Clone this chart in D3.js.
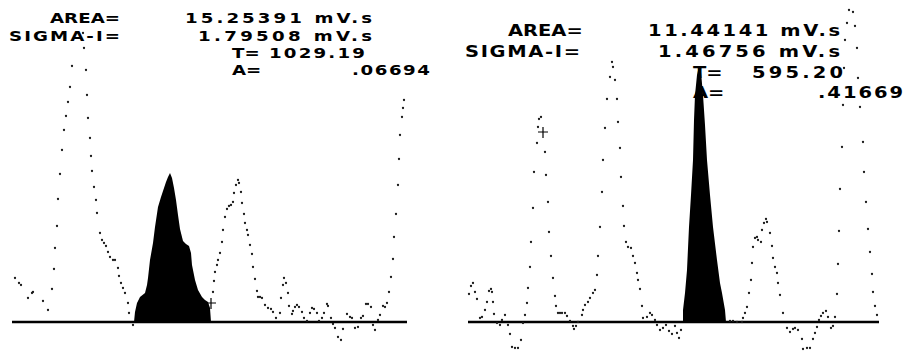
<!DOCTYPE html>
<html>
<head>
<meta charset="utf-8">
<script src="https://cdn.jsdelivr.net/npm/d3@7"></script>
<style>
  html, body { margin: 0; padding: 0; background: #fff; }
  svg { display: block; }
  text { font-family: "DejaVu Sans", "Liberation Sans", sans-serif; font-weight: bold; fill: #000; }
</style>
</head>
<body>
<svg id="chart" width="905" height="354"></svg>
<script>
// ---- detector trace, left run: [time (s), signal (mV)] ----
const leftTrace = [
  [874,4.4],[878,3.9],[880,3.7],[887,2.4],[891,2.9],[892,3.0],[902,2.1],[907,1.2],
  [911,3.3],[913,5.3],[914,7.4],[916,9.6],[917,12.3],[919,14.8],[921,17.2],[923,19.2],
  [925,20.6],[927,22.0],[929,23.5],[931,25.6],[934,30.2],[936,31.6],[938,32.0],[940,31.0],
  [942,28.9],[943,27.4],[945,25.2],[946,22.7],[947,20.4],[949,18.4],[950,16.6],[951,15.1],
  [953,13.5],[955,12.2],[956,10.9],[959,8.9],[961,8.2],[963,7.9],[965,7.6],[967,7.0],
  [969,6.5],[972,6.2],[974,6.2],[977,5.4],[978,4.6],[980,3.9],[982,3.4],[984,2.9],
  [987,1.9],[988,0.9],[992,-0.3],
  [1072,3.0],[1073,4.1],[1074,5.0],[1076,5.7],[1077,6.2],[1079,6.9],[1081,8.0],[1082,9.2],
  [1084,10.5],[1086,11.3],[1088,11.6],[1090,11.7],[1092,12.0],[1093,12.9],[1095,13.7],
  [1097,14.2],[1098,13.9],[1100,13.0],[1101,11.9],[1103,10.8],[1104,9.9],[1106,9.2],
  [1107,8.7],[1109,7.7],[1111,6.8],[1112,5.5],[1114,4.3],[1116,3.1],[1117,2.5],[1119,2.5],
  [1121,2.4],[1124,1.7],[1127,1.4],[1130,1.3],[1132,1.0],[1135,0.4],[1139,0.9],[1140,2.4],
  [1142,3.7],[1143,4.4],[1145,3.9],[1147,2.9],[1148,1.6],[1151,0.8],[1152,1.1],[1154,1.5],
  [1156,1.7],[1158,1.5],[1161,1.0],[1163,0.4],[1166,0.1],[1169,0.9],[1171,1.4],[1173,1.3],
  [1176,0.9],[1178,0.1],[1181,0.4],[1183,0.9],[1186,1.8],[1187,1.6],[1190,0.4],[1192,-0.2],
  [1194,-0.6],[1197,-1.5],[1200,-1.8],[1202,-0.7],[1206,0.8],[1209,0.5],[1211,0.4],
  [1214,-0.6],[1217,-0.5],[1220,0.4],[1222,0.6],[1225,1.8],[1227,1.8],[1230,1.5],
  [1232,-0.3],[1234,-0.8],[1237,0.2],[1239,0.7],[1242,1.6],[1244,1.5],[1246,1.9],
  [1248,3.0],[1250,4.5],[1252,6.3],[1253,8.5],[1255,10.8],[1257,13.7],[1258,16.3],
  [1259,18.7],[1261,20.5],[1262,21.4],[1263,22.2]
];
// integrated peak, left run (T = 1029.19)
const leftPeak = [
  [993,0],[994,1.0],[996,1.9],[999,2.5],[1004,2.9],[1006,3.7],[1007,4.4],[1009,6.2],
  [1012,7.9],[1014,9.5],[1017,11.5],[1020,12.5],[1022,13.1],[1025,14.0],[1027,14.5],
  [1029,14.9],[1031,14.4],[1033,13.4],[1035,12.2],[1037,10.7],[1039,9.3],[1042,8.1],
  [1045,7.8],[1048,7.6],[1050,6.9],[1051,5.7],[1054,4.2],[1057,3.2],[1061,2.5],
  [1064,2.2],[1067,2.0],[1069,1.4],[1070,0]
];
const leftMarks = [[1070,1.9]];

// ---- detector trace, right run ----
const rightTrace = [
  [365,2.8],[367,3.6],[369,3.9],[371,3.0],[373,2.3],[376,0.4],[378,0.5],[381,1.2],
  [383,2.0],[385,3.1],[387,3.3],[388,3.0],[389,2.0],[390,0.8],[393,-0.1],[396,-0.3],
  [398,0.2],[401,0.7],[404,-0.3],[406,-1.2],[408,-2.5],[411,-2.6],[414,-2.6],[417,-1.8],
  [419,-0.1],[421,0.7],[423,1.9],[424,3.4],[426,5.5],[427,8.0],[429,11.4],[430,15.0],
  [433,17.9],[434,19.5],[435,20.3],[437,20.5],[441,17.0],[442,14.7],[444,12.0],[445,9.0],
  [447,6.6],[449,4.4],[451,2.6],[452,1.6],[454,0.9],[456,0.9],[458,0.9],[461,0.9],
  [463,0.6],[466,0.1],[469,-0.4],[470,-0.7],[472,-0.4],[474,0.0],[478,0.7],[479,1.2],
  [481,1.7],[484,2.0],[486,2.4],[489,2.9],[491,3.2],[493,4.7],[494,6.6],[496,9.5],
  [498,13.0],[499,16.2],[501,19.4],[503,22.3],[506,24.5],[508,26.0],[509,25.5],[511,24.2],
  [513,22.3],[514,20.0],[516,17.4],[517,14.5],[519,11.6],[520,9.6],[522,8.0],[524,7.5],
  [527,7.4],[529,6.6],[531,5.9],[533,4.9],[534,4.2],[536,3.3],[538,1.6],[539,0.4],
  [543,0.5],[546,0.9],[548,0.7],[551,0.2],[553,-0.3],[556,-0.8],[559,-0.6],[562,-0.3],
  [565,-0.9],[568,-1.2],[571,-0.4],[573,-1.1],[575,-1.6],[577,-0.8],
  [626,0.1],[629,0.1],[633,0.0],[638,0.0],[639,0.4],[641,0.9],[643,1.5],[645,2.9],
  [647,4.2],[648,5.9],[649,7.5],[651,8.4],[653,8.5],[654,8.2],[657,8.0],[658,9.2],
  [660,9.9],[662,10.3],[663,10.0],[666,8.9],[668,7.6],[669,6.4],[671,5.5],[673,4.9],
  [674,3.9],[676,2.7],[679,0.9],[683,-0.6],[686,-1.0],[689,-0.7],[691,-0.6],[694,-0.8],
  [698,-1.7],[699,-2.7],[703,-2.6],[706,-2.6],[709,-1.7],[711,-1.1],[713,-0.5],[715,0.2],
  [717,0.6],[719,0.9],[722,1.1],[724,0.5],[727,-0.6],[729,-0.4],[731,0.5],[733,2.8],
  [734,5.8],[735,9.1],[736,13.3],[738,17.5],[739,21.7],[740,25.4],[741,28.2],[743,29.9],
  [745,31.2],[749,31.0],[751,29.6],[753,27.4],[754,24.4],[756,21.5],[759,18.0],[760,15.0],
  [762,12.0],[764,9.3],[766,7.0],[768,4.8],[769,3.0],[771,1.6],[773,0.7]
];
// integrated peak, right run (T = 595.20)
const rightPeak = [
  [579,0],[579,1.2],[581,2.9],[583,5.2],[585,9.5],[587,12.7],[589,16.2],[590,20.2],
  [591,22.7],[593,24.7],[595,25.6],[597,25.0],[599,22.7],[601,19.7],[603,16.2],
  [606,12.7],[609,9.5],[613,6.2],[616,3.9],[618,2.9],[621,1.2],[622,0]
];
const rightMarks = [[439,19.0]];

// ---- integration report text ----
const statNames = ["AREA=", "SIGMA-I=", "T=", "A="];
const leftStatValues = ["15.25391 mV.s", "1.79508 mV.s", "1029.19", ".06694"];
const rightStatValues = ["11.44141 mV.s", "1.46756 mV.s", "595.20", ".41669"];

const svg = d3.select("#chart");

// signal axis shared by both runs: 10 px per mV, baseline at 0
const y = d3.scaleLinear().domain([-3, 31.5]).range([352, 7]);

// plotter lettering: glyphs widened, letter spacing stretched to fill [x0, x1]
const glyphStretch = 1.3;
function plotLabel(parent, str, x0, x1, base, size) {
  const t = parent.append("text")
    .attr("transform", `translate(${x0},${base}) scale(${glyphStretch},1)`)
    .attr("font-size", size)
    .text(str);
  const target = (x1 - x0) / glyphStretch;
  if (t.node().getComputedTextLength() < target) {
    t.attr("textLength", target).attr("lengthAdjust", "spacing");
  }
  return t;
}

function drawRun(cfg) {
  const x = d3.scaleLinear().domain(cfg.domain).range(cfg.range);
  const g = svg.append("g");

  g.append("clipPath").attr("id", cfg.id + "-clip")
    .append("rect")
    .attr("x", cfg.range[0] - 5).attr("y", cfg.clipTop)
    .attr("width", cfg.range[1] - cfg.range[0] + 10)
    .attr("height", 354 - cfg.clipTop);

  const plot = g.append("g").attr("clip-path", `url(#${cfg.id}-clip)`);

  // baseline
  plot.append("line")
    .attr("x1", x(cfg.domain[0])).attr("x2", x(cfg.domain[1]))
    .attr("y1", y(0)).attr("y2", y(0))
    .attr("stroke", "#000").attr("stroke-width", 2.4);

  // integrated peak, filled down to the baseline
  plot.append("path")
    .datum(cfg.peak)
    .attr("d", d3.area().x(d => x(d[0])).y0(y(0)).y1(d => y(d[1])))
    .attr("fill", "#000");

  // sampled points of the trace
  plot.selectAll("circle.pt")
    .data(cfg.trace)
    .join("circle")
    .attr("class", "pt")
    .attr("cx", d => x(d[0])).attr("cy", d => y(d[1]))
    .attr("r", 1.15)
    .attr("fill", "#1a1a1a");

  // peak-end cursor marks
  cfg.marks.forEach(m => {
    const cx = x(m[0]), cy = y(m[1]);
    plot.append("path")
      .attr("d", `M${cx - 5},${cy}H${cx + 5}M${cx},${cy - 5}V${cy + 6}`)
      .attr("stroke", "#000").attr("stroke-width", 1.2).attr("fill", "none");
  });

  // report block
  cfg.layout.forEach((row, i) => {
    plotLabel(g, statNames[i], row.name[0], row.name[1], row.base, cfg.fontSize);
    plotLabel(g, cfg.values[i], row.val[0], row.val[1], row.base, cfg.fontSize);
  });
}

drawRun({
  id: "left",
  domain: [871, 1266], range: [12, 407], clipTop: 30,
  trace: leftTrace, peak: leftPeak, marks: leftMarks,
  values: leftStatValues, fontSize: 14,
  layout: [
    { name: [50, 120], val: [185, 372], base: 23 },
    { name: [9, 120],  val: [198, 372], base: 41 },
    { name: [232, 253], val: [269, 365], base: 58 },
    { name: [232, 253], val: [352, 430], base: 75 }
  ]
});

drawRun({
  id: "right",
  domain: [364, 775], range: [468, 879], clipTop: 0,
  trace: rightTrace, peak: rightPeak, marks: rightMarks,
  values: rightStatValues, fontSize: 15,
  layout: [
    { name: [508, 580], val: [648, 840], base: 36 },
    { name: [465, 580], val: [658, 840], base: 57 },
    { name: [693, 715], val: [752, 843], base: 78 },
    { name: [693, 715], val: [818, 903], base: 98 }
  ]
});
</script>
</body>
</html>
